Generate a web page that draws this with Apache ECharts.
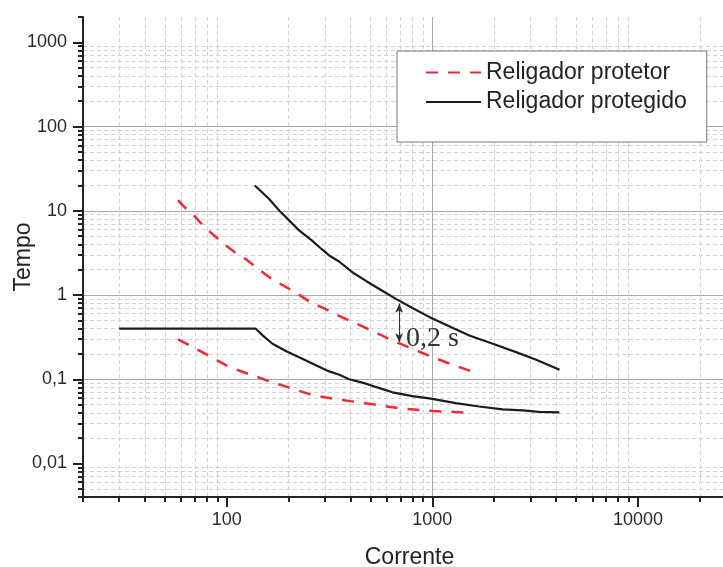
<!DOCTYPE html>
<html>
<head>
<meta charset="utf-8">
<script src="https://cdn.jsdelivr.net/npm/echarts@6/dist/echarts.min.js"></script>
<style>html,body{margin:0;padding:0;background:#fff}#c{width:723px;height:567px}</style>
</head>
<body>
<div id="c"></div>
<script>
// ---- data ----
const protetorUpperX = [58, 61, 70, 77, 88, 98, 110, 125, 140, 161, 180, 204, 230, 258, 300, 333, 400, 500, 650, 800, 1000, 1200, 1550];
const protetorUpperY = [13.4, 11.6, 8.6, 6.6, 4.95, 3.96, 3.2, 2.63, 2.1, 1.63, 1.38, 1.16, 0.97, 0.81, 0.69, 0.6, 0.49, 0.385, 0.283, 0.23, 0.184, 0.155, 0.124];
const protetorLowerX = [58, 70, 80, 100, 120, 140, 160, 200, 250, 300, 400, 500, 700, 1000, 1550];
const protetorLowerY = [0.297, 0.234, 0.196, 0.145, 0.122, 0.107, 0.095, 0.08, 0.067, 0.061, 0.055, 0.051, 0.045, 0.042, 0.04];
const protegidoUpperX = [137, 160, 180, 200, 225, 261, 290, 315, 352, 394, 417, 480, 590, 665, 800, 966, 1200, 1514, 2000, 2553, 3200, 4160];
const protegidoUpperY = [20, 14, 10.1, 7.8, 5.85, 4.4, 3.5, 2.95, 2.5, 2.0, 1.8, 1.45, 1.07, 0.9, 0.7, 0.55, 0.43, 0.33, 0.26, 0.21, 0.17, 0.13];
const protegidoLowerX = [30, 138, 150, 167, 195, 225, 270, 315, 353, 394, 467, 540, 640, 800, 984, 1300, 1690, 2200, 2750, 3300, 4150];
const protegidoLowerY = [0.4, 0.4, 0.33, 0.264, 0.215, 0.183, 0.148, 0.124, 0.113, 0.1, 0.09, 0.08, 0.07, 0.063, 0.059, 0.052, 0.0475, 0.044, 0.0427, 0.041, 0.0405];

const seriesNames = ['Religador protetor', 'Religador protegido'];
const xMajorTicks = [100, 1000, 10000];
const xMinorTicks = [20, 30, 40, 50, 60, 70, 80, 90, 200, 300, 400, 500, 600, 700, 800, 900, 2000, 3000, 4000, 5000, 6000, 7000, 8000, 9000, 20000, 30000];
const yMajorTicks = [0.01, 0.1, 1, 10, 100, 1000];
const yMinorTicks = [0.004, 0.005, 0.006, 0.007, 0.008, 0.009,
  0.02, 0.03, 0.04, 0.05, 0.06, 0.07, 0.08, 0.09,
  0.2, 0.3, 0.4, 0.5, 0.6, 0.7, 0.8, 0.9,
  2, 3, 4, 5, 6, 7, 8, 9,
  20, 30, 40, 50, 60, 70, 80, 90,
  200, 300, 400, 500, 600, 700, 800, 900, 2000];
const arrowFrom = [690, 0.79];
const arrowTo = [690, 0.275];
const annotationAt = [745, 0.305];
const annotationText = '0,2 s';

// ---- chart ----
const zip = (xs, ys) => xs.map((x, i) => [x, ys[i]]);
const fmt = v => String(v).replace('.', ',');
const sans = 'Liberation Sans, Arial, sans-serif';
const RED = '#ee2a37', BLACK = '#1c1c1c';

function majorAxis(isX) {
  const ticks = isX ? xMajorTicks : yMajorTicks;
  return {
    type: 'log', logBase: 10,
    min: isX ? 20 : 0.004, max: isX ? 30000 : 2000,
    name: isX ? 'Corrente' : 'Tempo',
    nameLocation: 'middle', nameGap: isX ? 49 : 48,
    nameMoveOverlap: false,
    nameTextStyle: { fontSize: 23, color: '#222', fontFamily: sans },
    axisLine: { show: true, onZero: false, lineStyle: { color: '#222', width: 2 } },
    axisTick: { show: true, inside: false, length: 10, customValues: ticks, lineStyle: { color: '#222', width: 2 } },
    axisLabel: { show: true, customValues: ticks, fontSize: 18, color: '#2a2a2a', fontFamily: sans, margin: isX ? 14 : 16, formatter: fmt },
    splitLine: { show: true, showMinLine: false, showMaxLine: false, lineStyle: { color: '#a9a9a9', width: 1 } },
    z: 3
  };
}
function minorAxis(isX) {
  const ticks = isX ? xMinorTicks : yMinorTicks;
  return {
    type: 'log', logBase: 10,
    min: isX ? 20 : 0.004, max: isX ? 30000 : 2000,
    position: isX ? 'bottom' : 'left',
    axisLine: { show: false },
    axisTick: { show: true, inside: false, length: 5, customValues: ticks, lineStyle: { color: '#222', width: 2 } },
    axisLabel: { show: false },
    splitLine: { show: true, showMinLine: false, showMaxLine: false, lineStyle: { color: '#d2d2d2', width: 1, type: [4, 3] } },
    z: 2
  };
}

const lineBase = (name, color, dashed, data) => ({
  type: 'line', name: name, data: data, xAxisIndex: 0, yAxisIndex: 0,
  showSymbol: false, symbol: 'none', smooth: false, z: 5,
  lineStyle: dashed ? { color: color, width: 2.5, type: [12, 10] } : { color: color, width: 2.2 },
  itemStyle: { color: color }
});

const s1 = lineBase(seriesNames[0], RED, true, zip(protetorUpperX, protetorUpperY));
const s2 = lineBase(seriesNames[0], RED, true, zip(protetorLowerX, protetorLowerY));
const s3 = lineBase(seriesNames[1], BLACK, false, zip(protegidoUpperX, protegidoUpperY));
const s4 = lineBase(seriesNames[1], BLACK, false, zip(protegidoLowerX, protegidoLowerY));
s3.markLine = {
  silent: true, symbol: ['arrow', 'arrow'], symbolSize: [6, 9], animation: false,
  lineStyle: { color: '#333', width: 1, type: 'solid' }, label: { show: false },
  data: [[{ coord: arrowFrom }, { coord: arrowTo }]]
};
s3.markPoint = {
  silent: true, symbol: 'circle', symbolSize: 0, animation: false,
  data: [{ coord: annotationAt }],
  label: { show: true, position: 'right', distance: 0, formatter: annotationText,
    fontFamily: 'Liberation Serif, Times New Roman, serif', fontSize: 28, color: '#333' }
};

const option = {
  backgroundColor: '#ffffff',
  animation: false,
  grid: { left: 83, right: -13, top: 17, bottom: 70, containLabel: false, outerBoundsMode: 'none' },
  xAxis: [majorAxis(true), minorAxis(true)],
  yAxis: [majorAxis(false), minorAxis(false)],
  legend: {
    left: 397, top: 51, orient: 'vertical',
    data: seriesNames,
    itemWidth: 55, itemHeight: 14, itemGap: 6.5,
    padding: [10, 20, 28.5, 28],
    backgroundColor: '#ffffff', borderColor: '#777', borderWidth: 1, borderRadius: 0,
    itemStyle: { color: 'transparent', borderWidth: 0, opacity: 0 },
    textStyle: { fontSize: 23, color: '#222', fontFamily: sans, lineHeight: 23 }
  },
  series: [s1, s2, s3, s4]
};

const chart = echarts.init(document.getElementById('c'), null, { renderer: 'canvas' });
chart.setOption(option);
</script>
</body>
</html>
